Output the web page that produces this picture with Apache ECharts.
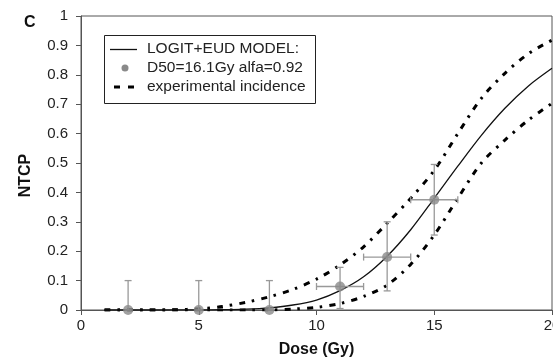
<!DOCTYPE html>
<html>
<head>
<meta charset="utf-8">
<script src="https://cdn.jsdelivr.net/npm/echarts@6/dist/echarts.min.js"></script>
<style>
html,body{margin:0;padding:0;background:#fff;}
#c{width:553px;height:362px;}
</style>
</head>
<body>
<div id="c"></div>
<script>
// Dose grid (Gy) for curves
const doses = [1,2,3,4,5,6,7,8,9,10,11,12,13,14,15,16,17,18,19,20];
// LOGIT+EUD model NTCP
const modelNTCP = [0,0,0,0.0001,0.0004,0.0012,0.003,0.0075,0.017,0.034,0.066,0.113,0.183,0.273,0.38,0.489,0.594,0.686,0.762,0.822];
// experimental incidence bounds (dashed)
const upperNTCP = [0,0,0,0.001,0.004,0.012,0.026,0.045,0.07,0.105,0.153,0.215,0.295,0.38,0.475,0.60,0.72,0.805,0.872,0.918];
const lowerNTCP = [0,0,0,0,0,0,0,0,0.003,0.009,0.022,0.046,0.085,0.155,0.255,0.38,0.50,0.578,0.646,0.703];
// observed points with error bars
const obsDose = [2,5,8,11,13,15];
const obsNTCP = [0,0,0,0.08,0.18,0.375];
const obsLow  = [0,0,0,0.005,0.065,0.255];
const obsHigh = [0.1,0.1,0.1,0.145,0.30,0.495];
const doseErr = [0,0,0,1,1,1];
// legend labels
const legendLabels = ['LOGIT+EUD MODEL:', 'D50=16.1Gy alfa=0.92', 'experimental incidence'];
// axis ticks
const xTicks = {min:0, max:20, interval:5};
const yTicks = {min:0, max:1, interval:0.1};

const pair = (xs, ys) => xs.map((x,i)=>[x, ys[i]]);
const errData = obsDose.map((d,i)=>[d, obsNTCP[i], obsLow[i], obsHigh[i], doseErr[i]]);

const chart = echarts.init(document.getElementById('c'), null, {renderer:'canvas'});
const font = 'Liberation Sans, Arial, sans-serif';
const axisCol = '#555';
const errCol = '#999';
const ptCol = '#8a8a8a';
const dashPattern = [6,7,2.5,7];

const lgX = 104, lgY = 35, rowY = [49, 68, 87];
const legendGraphic = {
  type:'group', z:100,
  children:[
    {type:'rect', shape:{x:lgX+0.5, y:lgY+0.5, width:211, height:68}, style:{fill:'#fff', stroke:'#222', lineWidth:1}},
    {type:'line', shape:{x1:110, y1:rowY[0]+0.5, x2:137, y2:rowY[0]+0.5}, style:{stroke:'#111', lineWidth:1.3}},
    {type:'circle', shape:{cx:125, cy:rowY[1], r:3.5}, style:{fill:ptCol}},
    {type:'line', shape:{x1:114, y1:rowY[2], x2:134, y2:rowY[2]}, style:{stroke:'#000', lineWidth:3, lineDash:[6,8]}},
  ].concat(legendLabels.map((t,i)=>({
    type:'text', x:147, y:rowY[i],
    style:{text:t, font:'15.5px ' + font, fill:'#222', textVerticalAlign:'middle', verticalAlign:'middle'}
  })))
};

chart.setOption({
  animation:false,
  backgroundColor:'#fff',
  grid:{left:81, right:1, top:16, bottom:52, show:true, borderColor:axisCol, borderWidth:1, outerBoundsMode:'none', containLabel:false},
  title:{text:'C', left:19, top:10, textStyle:{fontFamily:font, fontSize:16, fontWeight:'bold', color:'#111'}},
  graphic:[legendGraphic],
  xAxis:{
    type:'value', min:xTicks.min, max:xTicks.max, interval:xTicks.interval,
    name:'Dose (Gy)', nameLocation:'middle', nameGap:32,
    nameTextStyle:{fontFamily:font, fontSize:16, fontWeight:'bold', color:'#111'},
    axisLine:{show:true, onZero:false, lineStyle:{color:axisCol, width:1}},
    axisTick:{show:true, length:5, lineStyle:{color:axisCol}},
    axisLabel:{fontFamily:font, fontSize:15, color:'#222', margin:8, showMaxLabel:true, hideOverlap:false},
    splitLine:{show:false}
  },
  yAxis:{
    type:'value', min:yTicks.min, max:yTicks.max, interval:yTicks.interval,
    name:'NTCP', nameLocation:'middle', nameGap:47, nameRotate:90,
    nameTextStyle:{fontFamily:font, fontSize:16, fontWeight:'bold', color:'#111', padding:[0,0,0,-25]},
    axisLine:{show:true, lineStyle:{color:axisCol, width:1}},
    axisTick:{show:true, length:5, lineStyle:{color:axisCol}},
    axisLabel:{fontFamily:font, fontSize:15, color:'#222', margin:13},
    splitLine:{show:false}
  },
  series:[
    {
      name:'experimental incidence', type:'line', data:pair(doses, upperNTCP),
      smooth:0.3, symbol:'none', z:3,
      lineStyle:{color:'#000', width:3, type:dashPattern, cap:'butt'}
    },
    {
      name:'experimental incidence (lower)', type:'line', data:pair(doses, lowerNTCP),
      smooth:0.3, symbol:'none', z:3,
      lineStyle:{color:'#000', width:3, type:dashPattern, cap:'butt'}
    },
    {
      name:'LOGIT+EUD MODEL:', type:'line', data:pair(doses, modelNTCP),
      smooth:0.3, symbol:'none', z:4,
      lineStyle:{color:'#111', width:1.3}
    },
    {
      name:'errbars', type:'custom', data:errData, silent:true, z:5,
      renderItem:function(params, api){
        const x = api.value(0), y = api.value(1), lo = api.value(2), hi = api.value(3), dx = api.value(4);
        const pLo = api.coord([x, lo]), pHi = api.coord([x, hi]);
        const cap = 3.5;
        const st = {stroke:errCol, lineWidth:1.3};
        const ch = [
          {type:'line', shape:{x1:pLo[0], y1:pLo[1], x2:pHi[0], y2:pHi[1]}, style:st},
          {type:'line', shape:{x1:pHi[0]-cap, y1:pHi[1], x2:pHi[0]+cap, y2:pHi[1]}, style:st},
          {type:'line', shape:{x1:pLo[0]-cap, y1:pLo[1], x2:pLo[0]+cap, y2:pLo[1]}, style:st}
        ];
        if (dx > 0) {
          const pL = api.coord([x-dx, y]), pR = api.coord([x+dx, y]);
          ch.push({type:'line', shape:{x1:pL[0], y1:pL[1], x2:pR[0], y2:pR[1]}, style:st});
          ch.push({type:'line', shape:{x1:pL[0], y1:pL[1]-cap, x2:pL[0], y2:pL[1]+cap}, style:st});
          ch.push({type:'line', shape:{x1:pR[0], y1:pR[1]-cap, x2:pR[0], y2:pR[1]+cap}, style:st});
        }
        return {type:'group', children:ch};
      }
    },
    {
      name:'D50=16.1Gy alfa=0.92', type:'scatter', data:pair(obsDose, obsNTCP),
      symbol:'circle', symbolSize:10, z:6,
      itemStyle:{color:ptCol}
    }
  ]
});
</script>
</body>
</html>
